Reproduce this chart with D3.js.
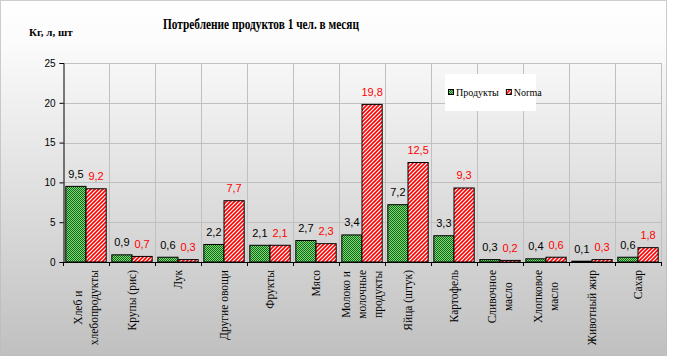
<!DOCTYPE html>
<html>
<head>
<meta charset="utf-8">
<script src="https://cdn.jsdelivr.net/npm/d3@7"></script>
<style>
  body { margin: 0; background: #fff; }
  svg { display: block; }
</style>
</head>
<body>
<svg id="chart" width="673" height="362"></svg>
<script>
// categories (lines of each axis label)
const categories = [
  ["Хлеб и", "хлебопродукты"],
  ["Крупы (рис)"],
  ["Лук"],
  ["Другие овощи"],
  ["Фрукты"],
  ["Мясо"],
  ["Молоко и", "молочные", "продукты"],
  ["Яйца (штук)"],
  ["Картофель"],
  ["Сливочное", "масло"],
  ["Хлопковое", "масло"],
  ["Животный жир"],
  ["Сахар"]
];
const products = [9.5, 0.9, 0.6, 2.2, 2.1, 2.7, 3.4, 7.2, 3.3, 0.3, 0.4, 0.1, 0.6];
const norma = [9.2, 0.7, 0.3, 7.7, 2.1, 2.3, 19.8, 12.5, 9.3, 0.2, 0.6, 0.3, 1.8];
const seriesNames = ["Продукты", "Norma"];
const yTicks = [0, 5, 10, 15, 20, 25];

const svg = d3.select("#chart");
const W = 666, H = 355;
const M = { left: 63, right: 661, top: 63, bottom: 262 };

const defs = svg.append("defs");
const grad = defs.append("linearGradient")
  .attr("id", "bg").attr("x1", 0).attr("y1", 0).attr("x2", 0).attr("y2", 1);
grad.append("stop").attr("offset", "0").attr("stop-color", "#ffffff");
grad.append("stop").attr("offset", "0.12").attr("stop-color", "#fbfbfb");
grad.append("stop").attr("offset", "1").attr("stop-color", "#c0c0c0");

// green checker
const pg = defs.append("pattern").attr("id", "pg")
  .attr("patternUnits", "userSpaceOnUse").attr("width", 2).attr("height", 2);
pg.append("rect").attr("width", 2).attr("height", 2).attr("fill", "#007800");
pg.append("rect").attr("x", 1).attr("y", 0).attr("width", 1).attr("height", 1).attr("fill", "#90cc90");
pg.append("rect").attr("x", 0).attr("y", 1).attr("width", 1).attr("height", 1).attr("fill", "#90cc90");

// red diagonal stripes
const pr = defs.append("pattern").attr("id", "pr")
  .attr("patternUnits", "userSpaceOnUse").attr("width", 4).attr("height", 4);
pr.append("rect").attr("width", 4).attr("height", 4).attr("fill", "#ffffff");
pr.append("path").attr("d", "M-1,1 l2,-2 M0,4 l4,-4 M3,5 l2,-2")
  .attr("stroke", "#ff0000").attr("stroke-width", 1.6);

const fills = ["url(#pg)", "url(#pr)"];
const labelColors = ["#000000", "#ff0000"];

// background
svg.append("rect").attr("x", 0.5).attr("y", 0.5).attr("width", W).attr("height", H)
  .attr("fill", "url(#bg)")
  .attr("stroke", "#9a9a9a").attr("stroke-dasharray", "1 1");

const x = d3.scaleBand().domain(d3.range(categories.length))
  .range([M.left, M.right]).paddingInner(0).paddingOuter(0);
const x1 = d3.scaleBand().domain([0, 1]).range([0, x.bandwidth()]).paddingOuter(0.14).paddingInner(0);
const y = d3.scaleLinear().domain([0, 25]).range([M.bottom, M.top]);

// grid
const grid = svg.append("g").attr("stroke", "#c0c0c0").attr("stroke-width", 1);
yTicks.slice(1).forEach(t => {
  grid.append("line").attr("x1", M.left).attr("x2", M.right)
    .attr("y1", Math.round(y(t)) + 0.5).attr("y2", Math.round(y(t)) + 0.5);
});
d3.range(1, categories.length + 1).forEach(i => {
  const xx = Math.round(M.left + i * x.bandwidth()) + 0.5;
  grid.append("line").attr("x1", xx).attr("x2", xx).attr("y1", M.top).attr("y2", M.bottom);
});

// bars
const series = [products, norma];
series.forEach((vals, s) => {
  const g = svg.append("g");
  g.selectAll("rect").data(vals).enter().append("rect")
    .attr("x", (d, i) => x(i) + x1(s))
    .attr("y", d => y(d))
    .attr("width", x1.bandwidth())
    .attr("height", d => y(0) - y(d))
    .attr("fill", fills[s])
    .attr("stroke", "#000").attr("stroke-width", 1);
  g.selectAll("text").data(vals).enter().append("text")
    .attr("x", (d, i) => x(i) + x1(s) + x1.bandwidth() / 2)
    .attr("y", d => y(d) - 8.5)
    .attr("text-anchor", "middle")
    .attr("font-family", "Liberation Sans, Arial, sans-serif")
    .attr("font-size", 11)
    .attr("fill", labelColors[s])
    .text(d => String(d).replace(".", ","));
});

// y axis
const yAxis = svg.append("g").attr("transform", `translate(${M.left + 0.5},0)`)
  .call(d3.axisLeft(y).tickValues(yTicks).tickSize(4).tickPadding(4).tickFormat(d => d));
yAxis.select(".domain").attr("stroke", "#000");
yAxis.selectAll("text").attr("font-family", "Liberation Sans, Arial, sans-serif")
  .attr("font-size", 10).attr("fill", "#000");

// x axis line and ticks
const xa = svg.append("g");
xa.append("line").attr("x1", M.left).attr("x2", M.right)
  .attr("y1", M.bottom + 0.5).attr("y2", M.bottom + 0.5).attr("stroke", "#000");
d3.range(0, categories.length + 1).forEach(i => {
  const xx = Math.round(M.left + i * x.bandwidth()) + 0.5;
  xa.append("line").attr("x1", xx).attr("x2", xx)
    .attr("y1", M.bottom).attr("y2", M.bottom + 4).attr("stroke", "#000");
});

// category labels (rotated)
categories.forEach((lines, i) => {
  const cx = x(i) + x.bandwidth() / 2;
  const texts = lines.map((ln, j) => {
    return svg.append("text")
      .attr("font-family", "Liberation Serif, Times New Roman, serif")
      .attr("font-size", 11.5)
      .attr("text-anchor", "middle")
      .attr("dominant-baseline", "central")
      .text(ln);
  });
  const maxW = d3.max(texts, t => t.node().getComputedTextLength());
  texts.forEach((t, j) => {
    const off = (j - (lines.length - 1) / 2) * 16;
    t.attr("transform", `translate(${cx + off},${270 + maxW / 2}) rotate(-90)`);
  });
});

// title
svg.append("text").attr("x", 261).attr("y", 29)
  .attr("text-anchor", "middle")
  .attr("font-family", "Liberation Serif, Times New Roman, serif")
  .attr("font-size", 15).attr("font-weight", "bold")
  .attr("textLength", 196).attr("lengthAdjust", "spacingAndGlyphs")
  .text("Потребление продуктов 1 чел. в месяц");

svg.append("text").attr("x", 29).attr("y", 36)
  .attr("font-family", "Liberation Serif, Times New Roman, serif")
  .attr("font-size", 11).attr("font-weight", "bold")
  .text("Кг, л, шт");

// legend
const lg = svg.append("g");
lg.append("rect").attr("x", 445).attr("y", 74).attr("width", 91).attr("height", 37).attr("fill", "#fff");
let lx = 448;
seriesNames.forEach((name, s) => {
  lg.append("rect").attr("x", lx + 0.5).attr("y", 89.5).attr("width", 5).attr("height", 5)
    .attr("fill", fills[s]).attr("stroke", "#000");
  const t = lg.append("text").attr("x", lx + 8).attr("y", 95.5)
    .attr("font-family", "Liberation Serif, Times New Roman, serif")
    .attr("font-size", 10).text(name);
  lx += 8 + t.node().getComputedTextLength() + 7;
});
</script>
</body>
</html>
